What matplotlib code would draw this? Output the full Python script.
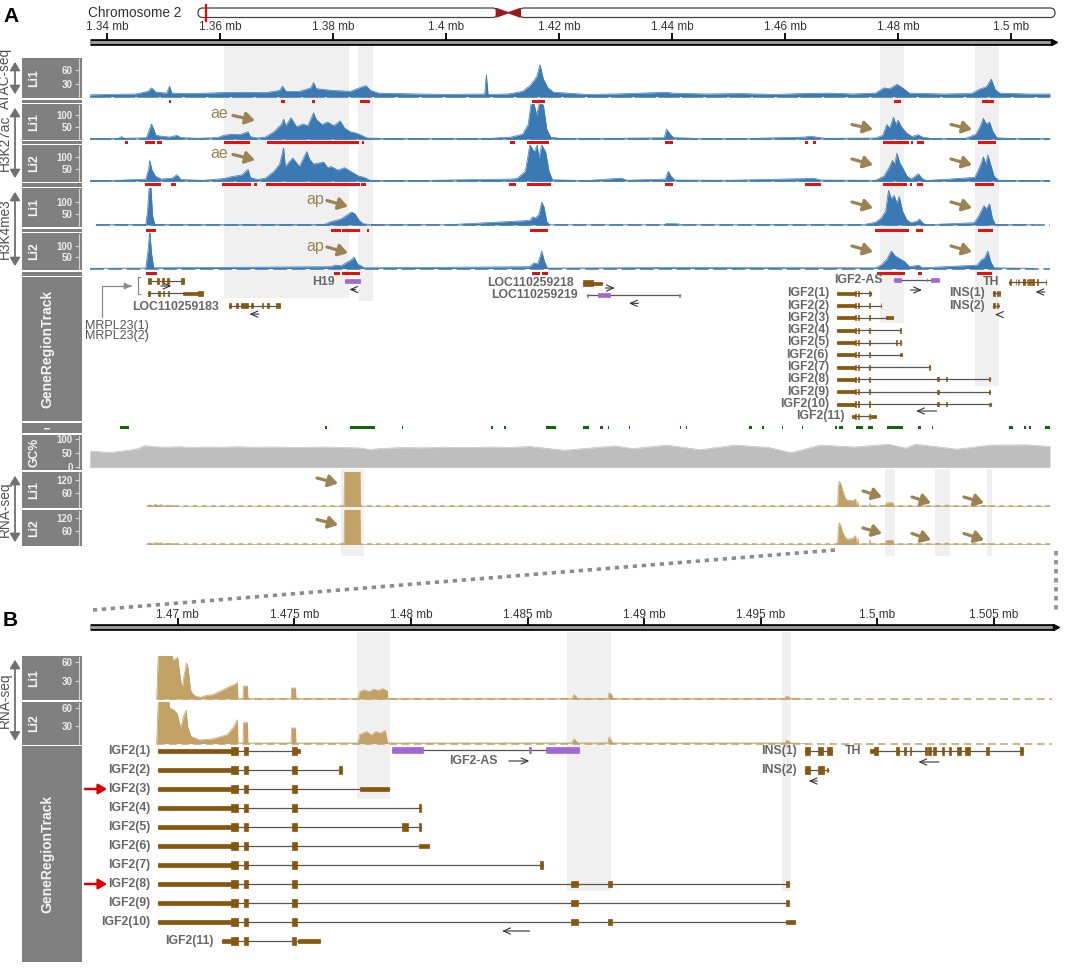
import numpy as np
import matplotlib.pyplot as plt
from matplotlib.patches import Rectangle, Polygon, FancyBboxPatch

plt.rcParams['font.family'] = ['Liberation Sans', 'DejaVu Sans']

W, H = 1065, 969

# ====================================================================
# Data (genomic positions in kb)
# ====================================================================
A_RANGE = (1336.92, 1506.90)
B_RANGE = (1466.24, 1507.49)
CHR_LEN, CEN_POS, REGION_POS = 151.9, 55.0, 1.42   # Mb

atac = [(1336.9, 4), (1340, 5), (1345, 6), (1347.2, 12), (1347.8, 20), (1348.6, 10), (1350.5, 8), (1351.0, 24),
        (1351.4, 8), (1355, 7), (1360, 9), (1364, 10), (1368, 9), (1370.5, 14), (1371.0, 24), (1371.6, 12),
        (1374, 12), (1376.0, 20), (1376.5, 32), (1377.0, 18), (1380, 14), (1383, 12), (1385.0, 22), (1385.8, 25),
        (1386.6, 14), (1388, 8), (1395, 6), (1400, 5), (1406.8, 6), (1407.1, 50), (1407.4, 5), (1411, 6),
        (1413.5, 12), (1414.8, 25), (1416.0, 45), (1416.6, 73), (1417.2, 40), (1418.0, 20), (1419, 10), (1425, 5),
        (1430, 6), (1439, 10), (1440, 8), (1446, 6), (1452, 7), (1458, 5), (1463, 7), (1468, 8), (1472, 6),
        (1476, 8), (1477.5, 20), (1478.5, 18), (1479.8, 28), (1480.8, 20), (1482, 8), (1488, 6), (1493, 7),
        (1494.6, 18), (1495.6, 22), (1496.5, 40), (1497.2, 16), (1498, 8), (1503, 6), (1506.9, 6)]

k27_li1 = [(1336.9, 2), (1340, 2), (1342.0, 3), (1342.5, 10), (1343.0, 3), (1346.9, 5), (1347.3, 30), (1347.8, 62),
           (1348.2, 40), (1348.6, 15), (1349.5, 12), (1351.0, 8), (1352.3, 15), (1353.0, 6), (1356, 3), (1359.5, 6),
           (1360.6, 15), (1362, 20), (1363.5, 18), (1364.9, 30), (1365.3, 10), (1366.5, 4), (1368.0, 8), (1369.5, 30),
           (1370.8, 60), (1371.2, 82), (1371.6, 55), (1372.5, 88), (1373.5, 50), (1374.6, 62), (1375.5, 55),
           (1376.5, 108), (1377.0, 80), (1378.0, 60), (1379.0, 70), (1380.1, 55), (1381.2, 75), (1382.0, 45),
           (1383.0, 30), (1384.0, 25), (1385.0, 15), (1386.0, 4), (1390, 2), (1400, 2), (1408, 3), (1411.5, 8),
           (1413.5, 20), (1414.5, 60), (1415.0, 145), (1415.5, 150), (1416.0, 100), (1416.5, 150), (1417.2, 140),
           (1417.8, 40), (1418.5, 8), (1420, 3), (1430, 3), (1438.6, 5), (1439.0, 40), (1439.5, 25), (1440.2, 6),
           (1445, 2), (1455, 3), (1463.5, 8), (1464.5, 12), (1465.5, 8), (1467, 3), (1476, 4), (1477.3, 15),
           (1478.0, 60), (1478.5, 45), (1479.2, 90), (1479.6, 60), (1480.0, 78), (1480.6, 50), (1481.5, 25),
           (1482.5, 10), (1483.5, 18), (1484.3, 8), (1486, 2), (1492, 3), (1493.8, 20), (1494.6, 55), (1495.1, 86),
           (1495.6, 62), (1496.2, 70), (1496.8, 30), (1497.5, 5), (1500, 2), (1506.9, 2)]

k27_li2 = [(1336.9, 2), (1342, 3), (1346.8, 8), (1347.3, 50), (1347.5, 85), (1347.9, 45), (1348.5, 20), (1349.5, 8),
           (1351.5, 12), (1352.3, 26), (1353.0, 6), (1357, 3), (1360.5, 10), (1362, 18), (1363.8, 25), (1364.9, 48),
           (1365.3, 15), (1366.5, 6), (1368.0, 12), (1369.5, 40), (1370.5, 70), (1371.2, 137), (1371.5, 60),
           (1372.8, 95), (1374.0, 60), (1375.3, 122), (1375.8, 90), (1376.5, 70), (1378.3, 78), (1379.0, 55),
           (1379.6, 60), (1380.8, 45), (1382.0, 55), (1383.5, 34), (1384.5, 20), (1385.5, 15), (1386.5, 3),
           (1395, 2), (1411.3, 8), (1412.5, 10), (1414.0, 40), (1414.8, 150), (1415.6, 120), (1416.1, 150),
           (1416.4, 95), (1416.9, 150), (1417.6, 120), (1418.2, 40), (1418.8, 5), (1425, 2), (1431.0, 12),
           (1432, 3), (1438.8, 8), (1439.3, 41), (1439.8, 20), (1440.5, 4), (1450, 3), (1463.5, 10), (1465, 12),
           (1466.3, 4), (1476, 3), (1477.5, 20), (1478.4, 55), (1479.0, 85), (1479.4, 70), (1479.8, 115),
           (1480.3, 75), (1480.9, 50), (1481.6, 20), (1482.3, 8), (1483.6, 30), (1484.3, 10), (1485, 2),
           (1493.6, 15), (1494.5, 60), (1495.1, 100), (1495.5, 70), (1495.9, 108), (1496.5, 60), (1497.0, 20),
           (1497.8, 3), (1506.9, 2)]

k4_li1 = [(1338.0, 1), (1346.8, 2), (1347.1, 60), (1347.4, 170), (1347.7, 170), (1348.0, 40), (1348.4, 3),
          (1360, 2), (1378.5, 3), (1379.6, 15), (1380.5, 20), (1381.5, 28), (1382.5, 45), (1383.2, 57),
          (1383.8, 50), (1384.6, 20), (1385.3, 5), (1386.2, 3), (1400, 1), (1414.8, 20), (1415.3, 36),
          (1415.8, 30), (1416.4, 46), (1416.9, 100), (1417.3, 80), (1417.8, 15), (1418.3, 1), (1438.5, 1),
          (1439, 6), (1441, 5), (1442, 1), (1474, 2), (1476.0, 12), (1477.0, 30), (1477.8, 60), (1478.3, 152),
          (1478.8, 115), (1479.3, 130), (1479.8, 95), (1480.2, 125), (1480.8, 60), (1481.5, 25), (1482.2, 10),
          (1483.3, 16), (1483.8, 26), (1484.4, 8), (1485, 1), (1493.5, 10), (1494.3, 40), (1495.2, 85),
          (1495.6, 70), (1496.2, 92), (1496.7, 30), (1497.2, 3), (1504, 1)]

k4_li2 = [(1336.9, 1), (1346.8, 2), (1347.2, 80), (1347.5, 170), (1347.8, 70), (1348.2, 3), (1379.5, 8),
          (1380.4, 15), (1381.4, 12), (1382.6, 30), (1383.3, 41), (1383.7, 50), (1384.3, 20), (1385.5, 3),
          (1414.8, 8), (1415.5, 25), (1416.2, 20), (1416.9, 77), (1417.4, 30), (1417.9, 2), (1439, 4),
          (1476, 3), (1477.0, 15), (1478.0, 40), (1478.8, 77), (1479.5, 55), (1480.2, 45), (1481.2, 30),
          (1482, 8), (1483.6, 15), (1484.3, 3), (1494.0, 15), (1494.8, 40), (1495.3, 45), (1495.9, 77),
          (1496.4, 30), (1497, 3), (1504, 1)]

gc_pct = [(1336.9, 57), (1338.5, 55), (1340.5, 52), (1343, 58), (1345.4, 66), (1346.6, 77), (1348, 74),
          (1350, 71), (1352.7, 73), (1355, 70), (1357.6, 72), (1360, 71), (1363, 73), (1366, 71), (1370, 72),
          (1374, 70), (1378, 72), (1382, 70), (1385, 68), (1386.5, 62), (1388, 66), (1392, 70), (1396, 69),
          (1400, 71), (1404, 70), (1408, 72), (1411, 70), (1414.8, 74), (1420.9, 60), (1429.9, 76), (1433.0, 66),
          (1439.0, 79), (1445.0, 62), (1451.1, 79), (1457.1, 70), (1461.1, 51), (1466.2, 79), (1472.2, 72),
          (1478.3, 82), (1481.3, 68), (1483.1, 82), (1490.4, 64), (1496.4, 79), (1502.5, 80), (1506.9, 74)]

rna_a_li1 = [(1347.0, 1), (1347.5, 8), (1348.0, 3), (1348.5, 10), (1349.0, 4), (1349.5, 9),
             (1350, 2), (1351.5, 6), (1352, 1), (1381.9, 1), (1382.0, 175), (1384.3, 175), (1384.4, 150),
             (1384.5, 175), (1384.7, 175), (1384.8, 1), (1469.3, 1), (1469.4, 90), (1469.6, 115), (1469.9, 100),
             (1470.1, 80), (1470.4, 55), (1470.7, 35), (1471.0, 30), (1472.0, 26), (1472.5, 34), (1472.6, 2),
             (1472.8, 2), (1472.9, 22), (1473.0, 2), (1474.9, 2), (1475.0, 14), (1475.1, 2), (1477.7, 2),
             (1477.9, 16), (1478.8, 18), (1479.1, 16), (1479.2, 2), (1486.8, 2), (1487.0, 6), (1487.2, 2),
             (1488.4, 2), (1488.6, 8), (1488.8, 2), (1496.0, 2), (1496.1, 5), (1496.3, 1), (1506.9, 1)]

rna_a_li2 = [(1347.0, 1), (1347.5, 7), (1348.0, 3), (1348.5, 9), (1349.0, 4), (1349.5, 8),
             (1350, 2), (1351.5, 5), (1352, 1), (1381.9, 1), (1382.0, 175), (1384.3, 175), (1384.4, 150),
             (1384.5, 175), (1384.7, 175), (1384.8, 1), (1469.3, 1), (1469.4, 70), (1469.6, 100), (1469.9, 80),
             (1470.1, 60), (1470.4, 45), (1470.7, 30), (1471.0, 24), (1472.0, 28), (1472.5, 40), (1472.6, 2),
             (1472.8, 2), (1472.9, 30), (1473.0, 2), (1474.9, 2), (1475.0, 22), (1475.1, 2), (1477.7, 2),
             (1477.9, 18), (1478.8, 20), (1479.1, 18), (1479.2, 2), (1486.8, 2), (1487.0, 7), (1487.2, 2),
             (1488.4, 2), (1488.6, 9), (1488.8, 2), (1496.0, 2), (1496.1, 6), (1496.3, 1), (1506.9, 1)]

rna_b_li1 = [(1469.10, 0), (1469.17, 75), (1469.76, 75), (1469.78, 64), (1469.9, 66), (1470.0, 68), (1470.06, 50),
             (1470.15, 25), (1470.2, 18), (1470.28, 40), (1470.38, 59), (1470.45, 50), (1470.55, 15), (1470.65, 8),
             (1470.8, 4), (1471.0, 3), (1471.24, 6), (1471.5, 7), (1471.83, 13), (1472.2, 20), (1472.5, 25),
             (1472.56, 27), (1472.58, 1), (1472.80, 1), (1472.82, 21), (1472.99, 21), (1473.01, 1), (1474.86, 1),
             (1474.88, 18), (1475.05, 18), (1475.07, 1), (1477.74, 1), (1477.8, 12), (1478.0, 15), (1478.2, 12),
             (1478.4, 16), (1478.6, 14), (1478.8, 17), (1478.98, 13), (1479.0, 1), (1486.9, 1), (1487.0, 7),
             (1487.15, 1), (1488.45, 1), (1488.5, 10), (1488.6, 8), (1488.65, 1), (1496.05, 1), (1496.1, 5),
             (1496.3, 1), (1497.0, 0)]

rna_b_li2 = [(1469.10, 0), (1469.17, 75), (1469.61, 75), (1469.65, 60), (1469.84, 56), (1469.98, 50),
             (1470.13, 26), (1470.25, 45), (1470.36, 56), (1470.43, 28), (1470.57, 12), (1470.94, 6), (1471.54, 8),
             (1472.13, 15), (1472.4, 28), (1472.56, 40), (1472.58, 1), (1472.80, 1), (1472.82, 35), (1472.99, 35),
             (1473.01, 1), (1474.86, 1), (1474.88, 26), (1475.05, 26), (1475.07, 1), (1477.74, 1), (1477.8, 15),
             (1478.1, 20), (1478.3, 14), (1478.5, 20), (1478.7, 17), (1478.9, 22), (1479.0, 1), (1486.9, 1),
             (1487.0, 8), (1487.15, 1), (1488.45, 1), (1488.5, 11), (1488.65, 1), (1496.05, 1), (1496.1, 6),
             (1496.3, 1), (1497.0, 0)]

# called peaks
atac_pk = [(1350.9, 1351.3), (1370.7, 1371.4), (1376.2, 1376.8), (1384.7, 1386.5), (1415.2, 1417.5),
           (1479.2, 1480.6), (1494.8, 1496.9)]
k27_li1_pk = [(1343.2, 1343.6), (1346.7, 1348.4), (1348.7, 1349.6), (1360.6, 1365.2), (1368.2, 1384.6),
              (1385.0, 1385.4), (1411.2, 1412.1), (1414.3, 1418.2), (1438.7, 1440.2), (1463.5, 1464.1),
              (1465.0, 1465.5), (1477.4, 1481.9), (1482.2, 1482.6), (1483.3, 1484.6), (1494.1, 1497.4)]
k27_li2_pk = [(1346.7, 1349.5), (1351.2, 1352.2), (1360.3, 1365.4), (1365.9, 1366.5), (1368.0, 1384.7),
              (1384.9, 1385.8), (1411.1, 1412.4), (1414.3, 1418.6), (1438.7, 1440.2), (1463.5, 1466.3),
              (1477.4, 1481.6), (1482.1, 1482.5), (1483.3, 1484.5), (1493.7, 1497.0)]
k4_li1_pk = [(1346.9, 1348.6), (1379.6, 1381.4), (1381.6, 1384.8), (1385.9, 1386.3), (1414.8, 1418.0),
             (1476.0, 1481.9), (1483.2, 1484.5), (1494.1, 1496.8)]
k4_li2_pk = [(1346.9, 1348.7), (1380.1, 1381.2), (1381.6, 1384.7), (1415.1, 1416.6), (1417.0, 1418.0),
             (1476.2, 1481.3), (1483.5, 1484.2), (1494.0, 1496.7)]

cpg = [(1342.3, 1343.8), (1378.6, 1378.8), (1382.9, 1387.4), (1392.2, 1392.35), (1407.9, 1408.3),
       (1410.3, 1410.6), (1417.6, 1419.5), (1424.3, 1425.2), (1427.3, 1427.7), (1428.6, 1428.9),
       (1432.4, 1432.6), (1441.4, 1441.6), (1442.5, 1442.7), (1453.6, 1454.1), (1455.9, 1456.2),
       (1459.4, 1459.6), (1462.9, 1463.1), (1468.8, 1469.2), (1469.5, 1470.2), (1472.5, 1473.8),
       (1474.7, 1475.6), (1478.0, 1480.9), (1483.6, 1484.0), (1486.0, 1486.2), (1499.7, 1500.3),
       (1502.3, 1502.6), (1503.2, 1503.5), (1506.0, 1507.0)]

# highlighted regions
hl_a = [(1360.7, 1382.7), (1384.4, 1387.1), (1476.8, 1481.0), (1493.6, 1497.8)]
hl_a_rna = [(1381.4, 1385.5), (1477.7, 1479.5), (1486.6, 1489.2), (1495.8, 1496.7)]
hl_b = [(1477.7, 1479.1), (1486.7, 1488.6), (1495.9, 1496.3)]

# gene models: (start, end, kind) kind c=coding, m=medium, u=UTR
mrpl23_1 = [(1347.2, 1347.8, 'c'), (1348.7, 1349.15, 'c'), (1349.6, 1350.1, 'c'), (1350.55, 1350.85, 'c'),
            (1353.0, 1353.6, 'c')]
mrpl23_2 = [(1347.2, 1347.63, 'c'), (1349.03, 1349.33, 'c'), (1349.76, 1350.1, 'c'), (1350.68, 1350.85, 'c'),
            (1353.3, 1356.04, 'u'), (1356.04, 1356.96, 'c')]
loc183 = [(1361.5, 1361.96, 'c'), (1362.75, 1363.05, 'c'), (1363.66, 1364.9, 'c'), (1365.5, 1365.78, 'c'),
          (1367.3, 1367.6, 'c'), (1368.24, 1368.54, 'c'), (1369.77, 1370.49, 'c')]
h19 = [(1382.1, 1384.7, 'm')]
loc218 = [(1424.3, 1426.0, 'c'), (1426.0, 1427.5, 'u')]
loc219 = [(1425.0, 1425.15, 'u'), (1426.8, 1429.0, 'm'), (1441.25, 1441.4, 'u')]
igf2_as = [(1479.2, 1480.5, 'm'), (1485.05, 1485.15, 'm'), (1485.8, 1487.2, 'm')]
ins_1 = [(1496.89, 1497.11, 'c'), (1497.47, 1497.69, 'c'), (1497.84, 1498.06, 'c')]
ins_2 = [(1496.89, 1497.11, 'c'), (1497.47, 1497.72, 'c'), (1497.84, 1497.88, 'u')]
th = [(1499.67, 1499.86, 'u'), (1499.86, 1500.03, 'c'), (1500.8, 1500.94, 'c'), (1501.16, 1501.23, 'c'),
      (1501.38, 1501.45, 'c'), (1502.04, 1502.11, 'c'), (1502.19, 1502.3, 'c'), (1502.38, 1502.53, 'c'),
      (1502.77, 1502.85, 'c'), (1503.07, 1503.14, 'c'), (1503.43, 1503.58, 'c'), (1503.77, 1503.99, 'c'),
      (1504.64, 1504.79, 'c'), (1506.11, 1506.26, 'c')]
igf2_core = [(1469.17, 1472.30, 'u'), (1472.30, 1472.57, 'c'), (1472.83, 1473.01, 'c'), (1474.90, 1475.11, 'c')]
igf2_tails = [[(1475.11, 1475.23, 'u')],
              [(1476.93, 1477.03, 'c')],
              [(1477.81, 1479.04, 'u')],
              [(1480.35, 1480.45, 'c')],
              [(1479.63, 1479.88, 'c'), (1480.35, 1480.45, 'c')],
              [(1480.35, 1480.76, 'u')],
              [(1485.55, 1485.66, 'c')],
              [(1486.87, 1487.16, 'm'), (1488.44, 1488.62, 'm'), (1496.08, 1496.20, 'm')],
              [(1486.87, 1487.16, 'm'), (1496.08, 1496.20, 'm')],
              [(1486.87, 1487.16, 'm'), (1488.44, 1488.62, 'm'), (1496.08, 1496.49, 'u')]]
igf2_11 = [(1471.90, 1472.30, 'u'), (1472.30, 1472.57, 'c'), (1472.83, 1473.01, 'c'), (1474.90, 1475.06, 'c'),
           (1475.17, 1476.09, 'u')]

# ====================================================================
# Styles
# ====================================================================
BLUE, TAN, GRAYFILL = '#3B79B4', '#C2A166', '#BEBEBE'
RED, GREEN = '#E0140C', '#0A6A0A'
BROWN, PURPLE = '#87560F', '#A168D6'
PANEL, HL = '#808080', '#F0F0F0'
KHAKI, GENE_TXT = '#9C8452', '#666666'
GENE_FS = 8.8

fig = plt.figure(figsize=(W / 100, H / 100), dpi=100)


def px_axes(x0, y0, x1, y1, z=1):
    return fig.add_axes([x0 / W, 1 - y1 / H, (x1 - x0) / W, (y1 - y0) / H], zorder=z)


def panel_axes(x0, y0, x1, y1, xr):
    ax = px_axes(x0, y0, x1, y1, z=1)
    ax.set_xlim(*xr)
    ax.set_ylim(y1, y0)
    ax.axis('off')
    return ax


def title_box(y0, y1, ylim, ticks, name):
    t = px_axes(22, y0, 82, y1)
    t.set_facecolor(PANEL)
    t.set_xlim(0, 1)
    t.set_ylim(*ylim)
    for s in ['top', 'right', 'bottom']:
        t.spines[s].set_visible(False)
    t.spines['left'].set_position(('axes', 0.95))
    t.spines['left'].set_color('#D5D5D5')
    t.spines['left'].set_bounds(ylim[0] * 0.3, ylim[1] * 0.97)
    t.set_xticks([])
    t.set_yticks(ticks)
    t.tick_params(axis='y', colors='#D5D5D5', labelcolor='#ECECEC', labelsize=7, length=3, pad=1.5, width=0.8)
    for lab in t.get_yticklabels():
        lab.set_fontweight('bold')
    t.text(0.2, 0.5, name, rotation=90, ha='center', va='center', color='#F4F4F4', fontsize=8.8,
           fontweight='bold', transform=t.transAxes)


def coverage(x0, x1, y0, y1, xr, ylim, pts, color, dash):
    ax = px_axes(x0, y0, x1, y1, z=2)
    ax.set_xlim(*xr)
    ax.set_ylim(*ylim)
    ax.axis('off')
    xs, ys = np.array(pts, dtype=float).T
    ax.fill_between(xs, ys, 0, color=color, lw=0)
    ax.plot(xs, ys, color=color, lw=0.5)
    ax.plot([xs[0], xr[1]], [0, 0], color=color, lw=1.1, dashes=dash)
    return ax


def draw_tx(ax, exons, y, col, half):
    s = min(e[0] for e in exons)
    e_ = max(e[1] for e in exons)
    ax.plot([s, e_], [y, y], color='#555555', lw=0.9, zorder=3)
    for a, b, k in exons:
        h = half[k]
        ax.add_patch(Rectangle((a, y - h), b - a, 2 * h, facecolor=col, edgecolor=col, lw=0.5, zorder=4))
    return s, e_


def gene_label(ax, text, x, y, dx=-8):
    ax.annotate(text, xy=(x, y), xytext=(dx, 0), textcoords='offset pixels', ha='right', va='center',
                fontsize=GENE_FS, fontweight='bold', color=GENE_TXT, annotation_clip=False)


def strand_arrow(ax, xc, y, ppk, length, strand):
    half = length / 2 / ppk
    head, tail = (xc - half, xc + half) if strand < 0 else (xc + half, xc - half)
    ax.annotate('', xy=(head, y), xytext=(tail, y),
                arrowprops=dict(arrowstyle='->,head_length=0.5,head_width=0.22', lw=0.8, color='#333333'))


def genome_axis(ax, xr, y, step, label_y):
    ax.plot([xr[0] - 0.3 * (xr[1] - xr[0]) / 960, xr[1] + 0.2 * (xr[1] - xr[0]) / 100], [y, y],
            color='black', lw=4.8, solid_capstyle='butt', clip_on=False)
    ax.plot([xr[0], xr[1] + 0.2 * (xr[1] - xr[0]) / 100], [y, y], color='#9A9A9A', lw=2.2,
            solid_capstyle='butt', clip_on=False)
    ax.plot([xr[1] + 0.45 * (xr[1] - xr[0]) / 100], [y], marker='>', color='black', ms=5, clip_on=False)
    ticks = np.arange(np.ceil(xr[0] / step) * step, xr[1], step)
    ax.vlines(ticks, y - 9, y - 2, color='black', lw=1.3)
    for t in ticks:
        ax.text(t, label_y, f'{t / 1000:g} mb', ha='center', va='center', fontsize=8.5, color='#333333')


def peaks(ax, pk, y):
    ax.broken_barh([(s, e - s) for s, e in pk], (y - 1.5, 3.0), facecolors=RED, zorder=3)


# ====================================================================
# Panel A
# ====================================================================
axA = panel_axes(90, 20, 1050, 560, A_RANGE)
ppkA = 960 / (A_RANGE[1] - A_RANGE[0])
hl_bottoms = [298, 300.6, 323, 385.6]
for (s, e), b in zip(hl_a, hl_bottoms):
    axA.add_patch(Rectangle((s, 45), e - s, b - 45, facecolor=HL, edgecolor='none', zorder=0))
for s, e in hl_a_rna:
    axA.add_patch(Rectangle((s, 469), e - s, 87, facecolor=HL, edgecolor='none', zorder=0))
genome_axis(axA, A_RANGE, 42, 20, 27.5)

tracks_a = [
    (58, 98, (-3.2, 88.4), [30, 60], 'Li1', atac, BLUE, (14, 1.5), atac_pk, 101),
    (104, 140, (-4.1, 144.6), [50, 100], 'Li1', k27_li1, BLUE, (14, 2), k27_li1_pk, 142.5),
    (145, 182, (-4.1, 148.8), [50, 100], 'Li2', k27_li2, BLUE, (14, 2), k27_li2_pk, 184.8),
    (188, 227, (-8.8, 162.3), [50, 100], 'Li1', k4_li1, BLUE, (9, 3), k4_li1_pk, 230),
    (233, 270, (-6.6, 157), [50, 100], 'Li2', k4_li2, BLUE, (9, 3), k4_li2_pk, 273.5),
]
for y0, y1, yl, tk, nm, pts, col, dash, pk, py in tracks_a:
    coverage(90, 1050, y0, y1, A_RANGE, yl, pts, col, dash)
    title_box(y0, y1, yl, tk, nm)
    peaks(axA, pk, py)

coverage(90, 1050, 435, 470, A_RANGE, (-11.6, 115.6), gc_pct, GRAYFILL, (1, 0))
title_box(435, 470, (-11.6, 115.6), [0, 50, 100], 'GC%')
coverage(90, 1050, 472, 508, A_RANGE, (-6.9, 158), rna_a_li1, TAN, (3, 3))
title_box(472, 508, (-6.9, 158), [60, 120], 'Li1')
coverage(90, 1050, 510, 546, A_RANGE, (-6.9, 158), rna_a_li2, TAN, (3, 3))
title_box(510, 546, (-6.9, 158), [60, 120], 'Li2')

axA.broken_barh([(s, e - s) for s, e in cpg], (425.8, 3.4), facecolors=GREEN)

# gene region track A
halfA = {'c': 2.6, 'm': 2.0, 'u': 1.5}
rowA = lambda k: 281 + 12.3 * k
draw_tx(axA, mrpl23_1, rowA(0), BROWN, halfA)
draw_tx(axA, mrpl23_2, rowA(1), BROWN, halfA)
strand_arrow(axA, 1350.4, rowA(0) + 5, ppkA, 16, 1)
s, e = draw_tx(axA, loc183, rowA(2), BROWN, halfA)
gene_label(axA, 'LOC110259183', s, rowA(2) + 1, -10)
strand_arrow(axA, (s + e) / 2, rowA(2) + 8.5, ppkA, 15, -1)
s, e = draw_tx(axA, h19, rowA(0), PURPLE, halfA)
gene_label(axA, 'H19', s, rowA(0) + 1, -10)
strand_arrow(axA, (s + e) / 2, rowA(0) + 8.5, ppkA, 12, -1)
s, e = draw_tx(axA, loc218, rowA(0) + 2, BROWN, halfA)
gene_label(axA, 'LOC110259218', s, rowA(0) + 2, -10)
strand_arrow(axA, e + 1.5, rowA(0) + 7, ppkA, 15, 1)
s, e = draw_tx(axA, loc219, rowA(1) + 2, PURPLE, halfA)
gene_label(axA, 'LOC110259219', s, rowA(1) + 2, -10)
strand_arrow(axA, (s + e) / 2, rowA(1) + 10, ppkA, 15, -1)
s, e = draw_tx(axA, igf2_as, rowA(0) - 1, PURPLE, halfA)
gene_label(axA, 'IGF2-AS', s, rowA(0) - 1, -11)
strand_arrow(axA, (s + e) / 2, rowA(0) + 9, ppkA, 17, 1)
s, e = draw_tx(axA, th, rowA(0) + 1, BROWN, halfA)
gene_label(axA, 'TH', s, rowA(0) + 1, -10)
strand_arrow(axA, (s + e) / 2 + 2.2, rowA(0) + 11, ppkA, 15, -1)
for k, ex in enumerate([ins_1, ins_2]):
    s, e = draw_tx(axA, ex, rowA(k + 1), BROWN, halfA)
    gene_label(axA, f'INS({k + 1})', s, rowA(k + 1), -9)
strand_arrow(axA, (s + e) / 2, rowA(2) + 9, ppkA, 8, -1)
for k, tail in enumerate(igf2_tails):
    s, e = draw_tx(axA, igf2_core + tail, rowA(k + 1), BROWN, halfA)
    gene_label(axA, f'IGF2({k + 1})', s, rowA(k + 1), -8)
s, e = draw_tx(axA, igf2_11, rowA(11), BROWN, halfA)
gene_label(axA, 'IGF2(11)', s, rowA(11), -8)
strand_arrow(axA, 1485.0, rowA(10) + 7, ppkA, 26, -1)

# ====================================================================
# Panel B
# ====================================================================
axB = panel_axes(90, 600, 1052, 965, B_RANGE)
ppkB = 962 / (B_RANGE[1] - B_RANGE[0])
for (s, e), b in zip(hl_b, [798.5, 891, 891]):
    axB.add_patch(Rectangle((s, 632), e - s, b - 632, facecolor=HL, edgecolor='none', zorder=0))
genome_axis(axB, B_RANGE, 626.5, 5, 614.5)

coverage(90, 1052, 656, 700, B_RANGE, (-1.6, 70.5), rna_b_li1, TAN, (5, 3))
title_box(656, 700, (-1.6, 70.5), [30, 60], 'Li1')
coverage(90, 1052, 701.5, 744.5, B_RANGE, (-1.6, 70.5), rna_b_li2, TAN, (5, 3))
title_box(701.5, 744.5, (-1.6, 70.5), [30, 60], 'Li2')

halfB = {'c': 4.0, 'm': 3.0, 'u': 2.2}
rowB = lambda k: 751 + 19 * k
for k, tail in enumerate(igf2_tails):
    s, e = draw_tx(axB, igf2_core + tail, rowB(k), BROWN, halfB)
    gene_label(axB, f'IGF2({k + 1})', s, rowB(k), -8)
s, e = draw_tx(axB, igf2_11, rowB(10), BROWN, halfB)
gene_label(axB, 'IGF2(11)', s, rowB(10), -8)
strand_arrow(axB, 1484.5, rowB(9) + 9, ppkB, 33, -1)
s, e = draw_tx(axB, igf2_as, rowB(0) - 1.5, PURPLE, halfB)
axB.text(1482.7, rowB(0) + 10, 'IGF2-AS', ha='center', va='center', fontsize=GENE_FS, fontweight='bold',
         color=GENE_TXT)
strand_arrow(axB, 1484.64, rowB(0) + 10, ppkB, 26, 1)
for k, ex in enumerate([ins_1, ins_2]):
    s, e = draw_tx(axB, ex, rowB(k), BROWN, halfB)
    gene_label(axB, f'INS({k + 1})', s, rowB(k), -8)
strand_arrow(axB, 1497.24, rowB(1) + 11, ppkB, 14, -1)
s, e = draw_tx(axB, th, rowB(0), BROWN, halfB)
gene_label(axB, 'TH', s, rowB(0), -8)
strand_arrow(axB, 1502.2, rowB(0) + 11, ppkB, 26, -1)

# ====================================================================
# Overlay: title panel boxes, labels, arrows, ideogram
# ====================================================================
ov = fig.add_axes([0, 0, 1, 1], zorder=5)
ov.set_xlim(0, W)
ov.set_ylim(H, 0)
ov.axis('off')
ov.patch.set_alpha(0)

for y0, y1 in [(99.5, 102.8), (141, 143.8), (183.2, 186.5), (228.5, 231.8), (271.5, 275.5)]:
    ov.add_patch(Rectangle((22, y0), 60, y1 - y0, facecolor=PANEL, edgecolor='none'))
for y0, y1, nm in [(277, 421, 'GeneRegionTrack'), (746, 962, 'GeneRegionTrack')]:
    ov.add_patch(Rectangle((22, y0), 60, y1 - y0, facecolor=PANEL, edgecolor='none'))
    ov.text(47, (y0 + y1) / 2, nm, rotation=90, ha='center', va='center', color='#F4F4F4', fontsize=10,
            fontweight='bold')
ov.add_patch(Rectangle((22, 423), 60, 10, facecolor=PANEL, edgecolor='none'))
ov.text(48, 428, 'I', rotation=90, ha='center', va='center', color='white', fontsize=6.5, fontweight='bold')

for txt, y0, y1 in [('ATAC-seq', 58, 98), ('H3K27ac', 104, 182), ('H3K4me3', 188, 270),
                    ('RNA-seq', 472, 546), ('RNA-seq', 656, 744.5)]:
    ov.text(5, (y0 + y1) / 2, txt, rotation=90, ha='center', va='center', fontsize=9.8, color='#505050')
    ov.annotate('', xy=(15, y0 + 1), xytext=(15, y1 - 1),
                arrowprops=dict(arrowstyle='<|-|>,head_length=0.5,head_width=0.3', color='#707070', lw=1.3))

# MRPL23 label with connector
ov.text(85, 331, 'MRPL23(1)\nMRPL23(2)', ha='left', va='center', fontsize=9, color='#555555',
        linespacing=0.85)
ov.plot([101.5, 101.5, 130], [317, 286, 286], color='#8A8A8A', lw=0.9)
ov.annotate('', xy=(134, 286), xytext=(128, 286),
            arrowprops=dict(arrowstyle='-|>,head_length=0.4,head_width=0.2', color='#8A8A8A', lw=0.9))
ov.plot([140, 137.5, 137.5, 140], [276.5, 276.5, 293.5, 293.5], color='#8A8A8A', lw=0.9)

# khaki pointer arrows
ann_arrows = [(233, 115.5, 255, 120.5), (233, 154.5, 255, 160), (327, 200.5, 348, 206.5), (327, 247, 348, 253),
              (852, 124.5, 873, 129.5), (951, 124.5, 972, 129.5), (852, 159, 873, 165), (951, 159, 972, 165),
              (852, 202, 873, 208), (951, 202, 972, 208), (852, 246, 873, 252), (951, 246, 972, 252),
              (317, 478, 338, 483.5), (317, 519.5, 338, 525),
              (863, 491, 882, 497), (912, 497, 931, 503), (964, 497, 984, 503),
              (863, 528, 882, 533.5), (912, 533.5, 931, 540), (964, 533.5, 984, 540)]
for x0, y0, x1, y1 in ann_arrows:
    ov.annotate('', xy=(x1, y1), xytext=(x0, y0),
                arrowprops=dict(arrowstyle='-|>,head_length=0.55,head_width=0.35', color=KHAKI, lw=2.3,
                                shrinkA=0, shrinkB=0))
for txt, x, y in [('ae', 219, 113), ('ae', 219, 153.5), ('ap', 315, 199), ('ap', 315, 246)]:
    ov.text(x, y, txt, ha='center', va='center', fontsize=11.5, color=KHAKI)

# red arrows in panel B
for k in [2, 7]:
    ov.annotate('', xy=(107, rowB(k)), xytext=(85, rowB(k)),
                arrowprops=dict(arrowstyle='-|>,head_length=0.5,head_width=0.3', color='#E00000', lw=1.8,
                                shrinkA=0, shrinkB=0))

# zoom connector lines
ov.plot([835, 93], [550, 610], color='#8C8C8C', lw=2.6, dashes=(1.2, 1.3))
ov.plot([1056, 1056], [551, 611], color='#8C8C8C', lw=2.6, dashes=(1.2, 1.3))

# panel letters
ov.text(3, 16, 'A', fontsize=15, fontweight='bold', va='center', ha='left')
ov.text(3, 621, 'B', fontsize=15, fontweight='bold', va='center', ha='left')

# chromosome ideogram
ov.text(88, 13, 'Chromosome 2', fontsize=9.8, color='#333333', va='center', ha='left')
ix0, ix1 = 198, 1055
ipx = lambda p: ix0 + p / CHR_LEN * (ix1 - ix0)
cx = ipx(CEN_POS)
ov.add_patch(FancyBboxPatch((ix0, 8), cx - 11 - ix0, 9.5, boxstyle='round,pad=0,rounding_size=4.7',
                            facecolor='white', edgecolor='#444444', lw=0.9))
ov.add_patch(FancyBboxPatch((cx + 11, 8), ix1 - cx - 11, 9.5, boxstyle='round,pad=0,rounding_size=4.7',
                            facecolor='white', edgecolor='#444444', lw=0.9))
ov.add_patch(Polygon([(cx - 12, 8.5), (cx - 12, 17), (cx, 12.75)], closed=True, facecolor='#9B1B1B',
                     edgecolor='#9B1B1B'))
ov.add_patch(Polygon([(cx + 12, 8.5), (cx + 12, 17), (cx, 12.75)], closed=True, facecolor='#9B1B1B',
                     edgecolor='#9B1B1B'))
ov.plot([ipx(REGION_POS)] * 2, [5, 20.5], color='red', lw=1.6)

fig.savefig('out.png', dpi=100)
